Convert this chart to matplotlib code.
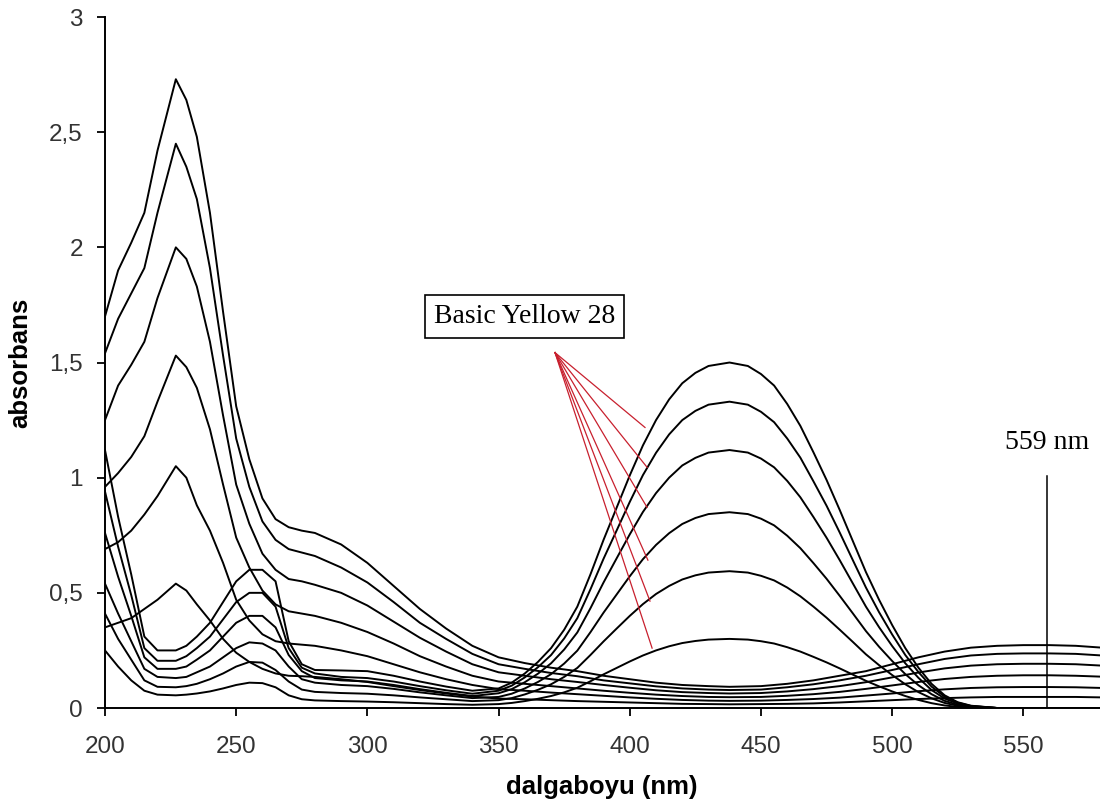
import matplotlib
matplotlib.use("Agg")
import matplotlib.pyplot as plt

# Wavelength grid (nm) for the Basic Yellow 28 spectra
wavelength_by28 = [200, 205, 210, 215, 220, 227, 231, 235, 240, 245,
                   250, 255, 260, 265, 270, 275, 280, 290, 300, 310,
                   320, 330, 340, 350, 355, 360, 365, 370, 375, 380,
                   385, 390, 395, 400, 405, 410, 415, 420, 425, 430,
                   438, 445, 450, 455, 460, 465, 470, 475, 480, 485,
                   490, 495, 500, 505, 510, 515, 520, 525, 530, 540,
                   560, 580]

# Basic Yellow 28 spectra, highest to lowest concentration
by28_c1 = [1.12, 0.83, 0.58, 0.31, 0.25, 0.25, 0.27, 0.31, 0.37, 0.46,
           0.55, 0.60, 0.60, 0.55, 0.29, 0.19, 0.165, 0.163, 0.16, 0.14,
           0.115, 0.093, 0.075, 0.085, 0.11, 0.15, 0.20, 0.26, 0.34, 0.44,
           0.58, 0.73, 0.87, 1.01, 1.14, 1.25, 1.34, 1.41, 1.455, 1.485,
           1.50, 1.485, 1.45, 1.40, 1.32, 1.225, 1.11, 0.99, 0.86, 0.725,
           0.59, 0.47, 0.36, 0.26, 0.175, 0.105, 0.055, 0.025, 0.01, 0.0,
           0.0, 0.0]
by28_c2 = [0.94, 0.70, 0.49, 0.26, 0.205, 0.205, 0.225, 0.26, 0.31, 0.385,
           0.46, 0.50, 0.50, 0.44, 0.26, 0.175, 0.15, 0.135, 0.13, 0.115,
           0.095, 0.077, 0.062, 0.075, 0.097, 0.133, 0.177, 0.23, 0.302, 0.39,
           0.515, 0.648, 0.771, 0.895, 1.011, 1.108, 1.188, 1.25, 1.29, 1.317,
           1.33, 1.317, 1.286, 1.241, 1.17, 1.087, 0.984, 0.878, 0.762, 0.642,
           0.523, 0.416, 0.319, 0.23, 0.156, 0.093, 0.049, 0.023, 0.009, 0.0,
           0.0, 0.0]
by28_c3 = [0.76, 0.57, 0.40, 0.22, 0.17, 0.17, 0.18, 0.21, 0.25, 0.31,
           0.37, 0.40, 0.40, 0.35, 0.23, 0.16, 0.13, 0.12, 0.115, 0.10,
           0.082, 0.066, 0.052, 0.064, 0.082, 0.112, 0.149, 0.194, 0.254, 0.328,
           0.433, 0.545, 0.65, 0.754, 0.851, 0.933, 1.0, 1.053, 1.086, 1.109,
           1.12, 1.109, 1.083, 1.045, 0.986, 0.915, 0.829, 0.739, 0.642, 0.541,
           0.44, 0.351, 0.269, 0.194, 0.131, 0.078, 0.041, 0.019, 0.008, 0.0,
           0.0, 0.0]
by28_c4 = [0.54, 0.41, 0.29, 0.17, 0.135, 0.13, 0.135, 0.155, 0.18, 0.22,
           0.26, 0.285, 0.28, 0.25, 0.18, 0.125, 0.11, 0.10, 0.095, 0.083,
           0.068, 0.055, 0.043, 0.048, 0.062, 0.085, 0.113, 0.147, 0.193, 0.249,
           0.329, 0.414, 0.493, 0.572, 0.646, 0.708, 0.759, 0.799, 0.825, 0.842,
           0.85, 0.842, 0.822, 0.793, 0.748, 0.694, 0.629, 0.561, 0.487, 0.411,
           0.334, 0.266, 0.204, 0.147, 0.099, 0.06, 0.031, 0.014, 0.006, 0.0,
           0.0, 0.0]
by28_c5 = [0.41, 0.30, 0.21, 0.12, 0.092, 0.09, 0.095, 0.105, 0.125, 0.15,
           0.18, 0.20, 0.197, 0.165, 0.115, 0.08, 0.07, 0.065, 0.062, 0.055,
           0.046, 0.038, 0.03, 0.034, 0.043, 0.059, 0.079, 0.103, 0.135, 0.174,
           0.23, 0.289, 0.345, 0.40, 0.451, 0.495, 0.53, 0.558, 0.576, 0.588,
           0.594, 0.588, 0.574, 0.554, 0.523, 0.485, 0.44, 0.392, 0.34, 0.287,
           0.233, 0.186, 0.143, 0.103, 0.069, 0.042, 0.022, 0.01, 0.004, 0.0,
           0.0, 0.0]
by28_c6 = [0.25, 0.18, 0.12, 0.075, 0.058, 0.055, 0.058, 0.063, 0.072, 0.085,
           0.10, 0.11, 0.108, 0.09, 0.055, 0.038, 0.033, 0.03, 0.028, 0.025,
           0.021, 0.017, 0.014, 0.017, 0.022, 0.03, 0.04, 0.052, 0.068, 0.088,
           0.116, 0.146, 0.174, 0.202, 0.228, 0.25, 0.268, 0.282, 0.291, 0.297,
           0.30, 0.297, 0.29, 0.28, 0.264, 0.245, 0.222, 0.198, 0.172, 0.145,
           0.118, 0.094, 0.072, 0.052, 0.035, 0.021, 0.011, 0.005, 0.002, 0.0,
           0.0, 0.0]

# Wavelength grid (nm) for the second dye (visible band at 559 nm)
wavelength_dye559 = [200, 205, 210, 215, 220, 227, 231, 235, 240, 245,
                     250, 255, 260, 265, 270, 275, 280, 290, 300, 310,
                     320, 330, 340, 350, 360, 370, 380, 390, 400, 410,
                     420, 430, 438, 450, 460, 470, 480, 490, 500, 510,
                     520, 530, 540, 550, 560, 570, 580]

# Second dye spectra, highest to lowest concentration
dye559_c1 = [1.70, 1.90, 2.02, 2.15, 2.42, 2.73, 2.64, 2.48, 2.15, 1.72,
             1.31, 1.08, 0.91, 0.82, 0.785, 0.77, 0.76, 0.71, 0.63, 0.53,
             0.43, 0.345, 0.27, 0.22, 0.195, 0.175, 0.16, 0.14, 0.125, 0.11,
             0.10, 0.095, 0.092, 0.095, 0.105, 0.12, 0.14, 0.16, 0.19, 0.22,
             0.245, 0.262, 0.27, 0.273, 0.273, 0.27, 0.262]
dye559_c2 = [1.54, 1.69, 1.80, 1.91, 2.15, 2.45, 2.35, 2.21, 1.91, 1.53,
             1.17, 0.96, 0.81, 0.73, 0.69, 0.675, 0.66, 0.61, 0.545, 0.46,
             0.37, 0.30, 0.235, 0.19, 0.17, 0.152, 0.138, 0.12, 0.107, 0.094,
             0.085, 0.08, 0.078, 0.08, 0.09, 0.103, 0.12, 0.14, 0.165, 0.19,
             0.213, 0.228, 0.235, 0.237, 0.237, 0.235, 0.228]
dye559_c3 = [1.25, 1.40, 1.49, 1.59, 1.78, 2.00, 1.95, 1.83, 1.59, 1.27,
             0.97, 0.80, 0.67, 0.60, 0.56, 0.55, 0.535, 0.50, 0.445, 0.375,
             0.305, 0.245, 0.19, 0.155, 0.14, 0.125, 0.113, 0.10, 0.088, 0.077,
             0.069, 0.065, 0.063, 0.065, 0.072, 0.082, 0.095, 0.112, 0.133, 0.154,
             0.172, 0.184, 0.19, 0.192, 0.192, 0.19, 0.184]
dye559_c4 = [0.96, 1.02, 1.09, 1.18, 1.33, 1.53, 1.48, 1.39, 1.21, 0.97,
             0.74, 0.61, 0.51, 0.45, 0.42, 0.41, 0.40, 0.37, 0.33, 0.28,
             0.225, 0.18, 0.14, 0.115, 0.105, 0.095, 0.085, 0.075, 0.066, 0.058,
             0.052, 0.048, 0.047, 0.048, 0.053, 0.06, 0.07, 0.083, 0.098, 0.113,
             0.126, 0.135, 0.14, 0.142, 0.142, 0.14, 0.136]
dye559_c5 = [0.69, 0.72, 0.77, 0.84, 0.92, 1.05, 1.00, 0.88, 0.77, 0.63,
             0.47, 0.38, 0.32, 0.29, 0.28, 0.275, 0.27, 0.25, 0.225, 0.19,
             0.155, 0.125, 0.10, 0.082, 0.075, 0.067, 0.06, 0.053, 0.046, 0.04,
             0.035, 0.032, 0.031, 0.032, 0.035, 0.039, 0.045, 0.054, 0.063, 0.073,
             0.081, 0.087, 0.09, 0.091, 0.091, 0.09, 0.087]
dye559_c6 = [0.35, 0.37, 0.39, 0.43, 0.47, 0.54, 0.51, 0.45, 0.38, 0.30,
             0.24, 0.20, 0.17, 0.15, 0.14, 0.138, 0.135, 0.125, 0.113, 0.095,
             0.078, 0.063, 0.05, 0.041, 0.038, 0.034, 0.03, 0.027, 0.024, 0.021,
             0.018, 0.017, 0.016, 0.017, 0.018, 0.02, 0.024, 0.029, 0.034, 0.039,
             0.043, 0.046, 0.048, 0.048, 0.048, 0.048, 0.046]

x_ticks = [200, 250, 300, 350, 400, 450, 500, 550]
y_ticks = [0, 0.5, 1, 1.5, 2, 2.5, 3]
y_tick_labels = ["0", "0,5", "1", "1,5", "2", "2,5", "3"]

by28_spectra = [by28_c1, by28_c2, by28_c3, by28_c4, by28_c5, by28_c6]
dye559_spectra = [dye559_c1, dye559_c2, dye559_c3, dye559_c4, dye559_c5, dye559_c6]

SANS = ["Liberation Sans", "DejaVu Sans"]
SERIF = ["Liberation Serif", "DejaVu Serif"]

fig = plt.figure(figsize=(11, 8.11), dpi=100)
ax = fig.add_axes([0.09545, 0.127, 0.90455, 0.852])

for spec in dye559_spectra:
    ax.plot(wavelength_dye559, spec, color="black", lw=1.4)
for spec in by28_spectra:
    ax.plot(wavelength_by28, spec, color="black", lw=1.4)

ax.set_xlim(200, 579.2)
ax.set_ylim(0, 3)
ax.set_xticks(x_ticks)
ax.set_xticklabels([str(v) for v in x_ticks])
ax.set_yticks(y_ticks)
ax.set_yticklabels(y_tick_labels)

for side in ("top", "right"):
    ax.spines[side].set_visible(False)
for side in ("left", "bottom"):
    ax.spines[side].set_linewidth(1.4)
    ax.spines[side].set_color("black")

ax.tick_params(axis="both", direction="out", length=6, width=1.3,
               colors="black", labelcolor="#333333", labelsize=17.5)
ax.tick_params(axis="x", pad=14)
ax.tick_params(axis="y", pad=10)
for lab in ax.get_xticklabels() + ax.get_yticklabels():
    lab.set_family(SANS)

fig.text(602 / 1100, 1 - 794 / 811, "dalgaboyu (nm)", ha="center", va="baseline",
         fontsize=18.5, fontweight="bold", family=SANS, color="black")
fig.text(32 / 1100, 1 - 363 / 811, "absorbans", ha="right", va="center",
         rotation=90, fontsize=18.5, fontweight="bold", family=SANS, color="black")

# Label box with leader lines to each Basic Yellow 28 curve
ax.text(359.9, 1.699, "Basic Yellow 28", ha="center", va="center",
        fontsize=20, family=SERIF, color="black",
        bbox=dict(boxstyle="square,pad=0.32", fc="white", ec="black", lw=1.2))
apex = (371.5, 1.543)
leader_ends = [(405.8, 1.218), (406.6, 1.045), (406.6, 0.871),
               (406.9, 0.642), (407.7, 0.464), (408.5, 0.26)]
for ex, ey in leader_ends:
    ax.plot([apex[0], ex], [apex[1], ey], color="#c8202e", lw=0.9)

# 559 nm marker
ax.plot([559, 559], [0, 1.006], color="black", lw=1.1)
ax.text(559, 1.153, "559 nm", ha="center", va="center",
        fontsize=20, family=SERIF, color="black")

fig.savefig("out.png", dpi=100)
